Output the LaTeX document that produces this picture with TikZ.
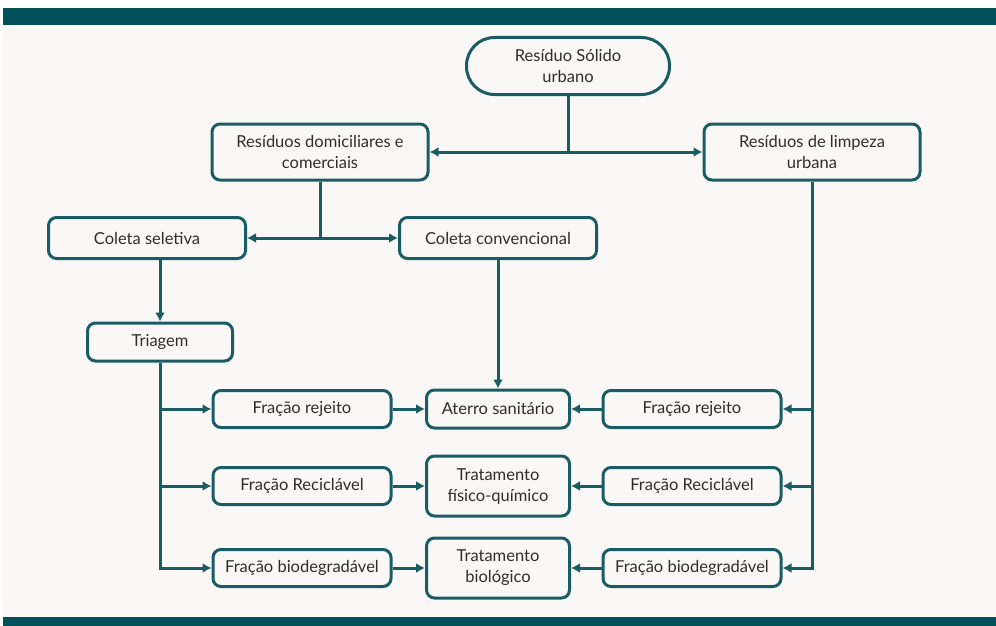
\documentclass[tikz,border=0pt]{standalone}
\usepackage{fontspec}
\setmainfont{Lato}
\usetikzlibrary{arrows.meta}

\definecolor{lineteal}{RGB}{26,92,100}
\definecolor{bandteal}{RGB}{0,79,89}
\definecolor{paper}{RGB}{250,248,247}
\definecolor{ink}{RGB}{45,45,45}

\begin{document}
\begin{tikzpicture}[x=1pt, y=-1pt, >={Latex[length=9pt, width=10pt]}, line width=3pt,
	box/.style={draw=lineteal, fill=paper, text=ink, rounded corners=8pt, align=center,
		inner sep=0pt, font=\fontsize{16.5}{21}\selectfont},
	wide/.style={box, minimum width=216pt, minimum height=56pt},
	coleta/.style={box, minimum width=197pt, minimum height=41pt},
	frac/.style={box, minimum width=178pt, minimum height=37pt},
	dest/.style={box, minimum width=143pt, minimum height=38pt},
	trat/.style={box, minimum width=143pt, minimum height=60pt},
	link/.style={draw=lineteal}]

	% fundo e faixas
	\useasboundingbox (0,0) rectangle (996,626);
	\fill[white] (0,0) rectangle (996,626);
	\fill[paper] (3,25) rectangle (996,617);
	\fill[bandteal] (3,8) rectangle (996,25);
	\fill[bandteal] (3,617) rectangle (996,626);

	\node[box, minimum width=203pt, minimum height=57pt, rounded corners=28pt] (rsu) at (568,66) {Resíduo Sólido\\urbano};
	\node[wide] 	(rdc) at (320,152) {Resíduos domiciliares e\\comerciais};
	\node[wide] 	(rlu) at (812,152) {Resíduos de limpeza\\urbana};
	\node[coleta] 	(cs) at (147,238) {Coleta seletiva};
	\node[coleta] 	(cc) at (498,238) {Coleta convencional};
	\node[box, minimum width=145pt, minimum height=38pt] (tri) at (160,342) {Triagem};

	\node[frac] 	(lfr) at (302,409) {Fração rejeito};
	\node[frac] 	(lfc) at (302,486) {Fração Reciclável};
	\node[frac] 	(lfb) at (302,568) {Fração biodegradável};
	\node[dest] 	(ate) at (498,409) {Aterro sanitário};
	\node[trat] 	(tfq) at (498,486) {Tratamento\\físico-químico};
	\node[trat] 	(tbi) at (498,568) {Tratamento\\biológico};
	\node[frac] 	(rfr) at (692,409) {Fração rejeito};
	\node[frac] 	(rfc) at (692,486) {Fração Reciclável};
	\node[frac] 	(rfb) at (692,568) {Fração biodegradável};

	\coordinate (j1) at (rsu |- rdc);
	\coordinate (j2) at (rdc |- cs);

	\path[link] 	(rsu) -- (j1);
	\path[link, ->] (j1) -- (rdc);
	\path[link, ->] (j1) -- (rlu);
	\path[link] 	(rdc) -- (j2);
	\path[link, ->] (j2) -- (cs);
	\path[link, ->] (j2) -- (cc);
	\path[link, ->] (tri |- cs.south) -- (tri);
	\path[link, ->] (cc) -- (ate);

	\path[link, ->] (tri) |- (lfr);
	\path[link, ->] (tri) |- (lfc);
	\path[link, ->] (tri) |- (lfb);
	\path[link, ->] (rlu) |- (rfr);
	\path[link, ->] (rlu) |- (rfc);
	\path[link, ->] (rlu) |- (rfb);

	\path[link, ->] (lfr) -- (ate);
	\path[link, ->] (lfc) -- (tfq);
	\path[link, ->] (lfb) -- (tbi);
	\path[link, ->] (rfr) -- (ate);
	\path[link, ->] (rfc) -- (tfq);
	\path[link, ->] (rfb) -- (tbi);
\end{tikzpicture}
\end{document}
